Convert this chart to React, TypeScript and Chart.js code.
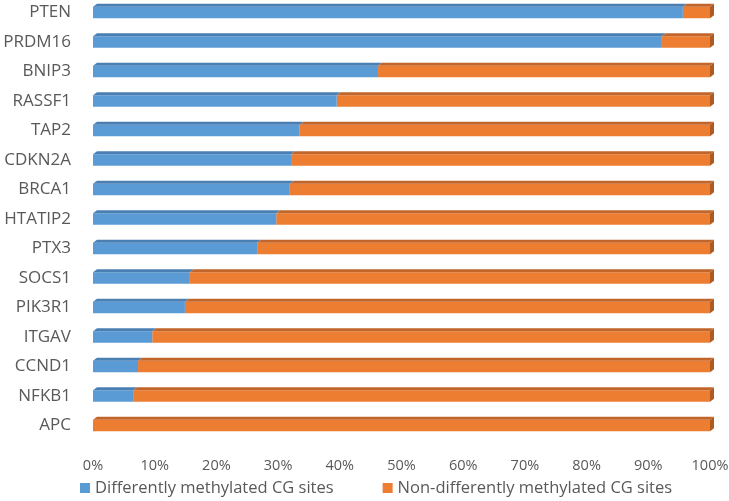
import React, { useEffect, useRef } from "react";
import { Chart, registerables } from "chart.js";

Chart.register(...registerables);

const genes = [
  "PTEN", "PRDM16", "BNIP3", "RASSF1", "TAP2", "CDKN2A", "BRCA1", "HTATIP2",
  "PTX3", "SOCS1", "PIK3R1", "ITGAV", "CCND1", "NFKB1", "APC",
];
const differently = [95.6, 92.2, 46.2, 39.5, 33.5, 32.1, 31.9, 29.7, 26.6, 15.7, 14.9, 9.6, 7.3, 6.5, 0];
const nonDifferently = [4.4, 7.8, 53.8, 60.5, 66.5, 67.9, 68.1, 70.3, 73.4, 84.3, 85.1, 90.4, 92.7, 93.5, 100];
const seriesNames = ["Differently methylated CG sites", "Non-differently methylated CG sites"];
const tickValues = [0, 10, 20, 30, 40, 50, 60, 70, 80, 90, 100];

const FRONT = ["#5b9bd5", "#ed7d31"];
const TOP = ["#4a7fb3", "#c2652a"];
const SIDE = ["#41719c", "#ae5a21"];
const FONT = "'Open Sans', sans-serif";
const TEXT = "#595959";

const depthPlugin = {
  id: "depth3d",
  afterDatasetsDraw(chart: any) {
    const ctx = chart.ctx;
    const dx = 4;
    const dy = 3;
    const n = chart.data.labels.length;
    ctx.save();
    for (let i = 0; i < n; i++) {
      let lastIdx = -1;
      chart.data.datasets.forEach((ds: any, di: number) => {
        const meta = chart.getDatasetMeta(di);
        const el = meta.data[i];
        if (!el) return;
        const p = el.getProps(["x", "y", "base", "height"], true);
        const L = Math.min(p.x, p.base);
        const R = Math.max(p.x, p.base);
        if (R - L < 0.5) return;
        lastIdx = di;
        const top = p.y - p.height / 2;
        ctx.fillStyle = TOP[di];
        ctx.beginPath();
        ctx.moveTo(L, top);
        ctx.lineTo(L + dx, top - dy);
        ctx.lineTo(R + dx, top - dy);
        ctx.lineTo(R, top);
        ctx.closePath();
        ctx.fill();
      });
      if (lastIdx >= 0) {
        const el = chart.getDatasetMeta(lastIdx).data[i];
        const p = el.getProps(["x", "y", "base", "height"], true);
        const R = Math.max(p.x, p.base);
        const top = p.y - p.height / 2;
        const bot = p.y + p.height / 2;
        ctx.fillStyle = SIDE[lastIdx];
        ctx.beginPath();
        ctx.moveTo(R, top);
        ctx.lineTo(R + dx, top - dy);
        ctx.lineTo(R + dx, bot - dy);
        ctx.lineTo(R, bot);
        ctx.closePath();
        ctx.fill();
      }
    }
    ctx.restore();
  },
};

const legendPlugin = {
  id: "customLegend",
  afterDraw(chart: any) {
    const ctx = chart.ctx;
    ctx.save();
    ctx.font = `16.5px ${FONT}`;
    ctx.textBaseline = "middle";
    ctx.textAlign = "left";
    const y = 488;
    const box = 10;
    const gapBoxText = 5;
    const gapItems = 49;
    let x = 80;
    chart.data.datasets.forEach((ds: any, di: number) => {
      ctx.fillStyle = FRONT[di];
      ctx.fillRect(x, y - box / 2, box, box);
      ctx.fillStyle = TEXT;
      const label = seriesNames[di];
      ctx.fillText(label, x + box + gapBoxText, y);
      x += box + gapBoxText + ctx.measureText(label).width + gapItems;
    });
    ctx.restore();
  },
};

export default function App() {
  const ref = useRef<HTMLCanvasElement>(null);
  useEffect(() => {
    if (!ref.current) return;
    const chart = new Chart(ref.current, {
      type: "bar",
      data: {
        labels: genes,
        datasets: [
          {
            label: seriesNames[0],
            data: differently,
            backgroundColor: FRONT[0],
            borderWidth: 0,
            clip: false as any,
          },
          {
            label: seriesNames[1],
            data: nonDifferently,
            backgroundColor: FRONT[1],
            borderWidth: 0,
            clip: false as any,
          },
        ],
      },
      options: {
        indexAxis: "y",
        animation: false,
        responsive: false,
        maintainAspectRatio: false,
        datasets: { bar: { categoryPercentage: 1, barPercentage: 0.39 } },
        layout: { padding: { left: 0, right: 19, top: 12.5, bottom: 25.5 } },
        scales: {
          x: {
            stacked: true,
            min: 0,
            max: 100,
            afterBuildTicks: (scale: any) => {
              scale.ticks = tickValues.map((v) => ({ value: v }));
            },
            grid: { display: false, drawTicks: false },
            border: { display: false },
            ticks: {
              callback: (v: any) => v + "%",
              color: TEXT,
              font: { family: FONT, size: 14.5 },
              padding: 31.5,
              maxRotation: 0,
            },
            afterFit: (scale: any) => {
              scale.height = 50;
              scale.paddingLeft = 0;
              scale.paddingRight = 0;
              scale.paddingTop = 0;
              scale.paddingBottom = 0;
            },
          },
          y: {
            stacked: true,
            offset: false,
            grid: { display: false, drawTicks: false },
            border: { display: false },
            ticks: {
              color: TEXT,
              font: { family: FONT, size: 17 },
              padding: 22,
              autoSkip: false,
            },
            afterFit: (scale: any) => {
              scale.width = 93;
              scale.paddingLeft = 0;
              scale.paddingRight = 0;
              scale.paddingTop = 0;
              scale.paddingBottom = 0;
            },
          },
        },
        plugins: {
          legend: { display: false },
          tooltip: { enabled: false },
        },
      },
      plugins: [depthPlugin, legendPlugin],
    });
    return () => chart.destroy();
  }, []);
  return (
    <div style={{ position: "absolute", left: 0, top: 0, width: 729, height: 501, background: "#fff" }}>
      <canvas ref={ref} width={729} height={501} />
    </div>
  );
}
